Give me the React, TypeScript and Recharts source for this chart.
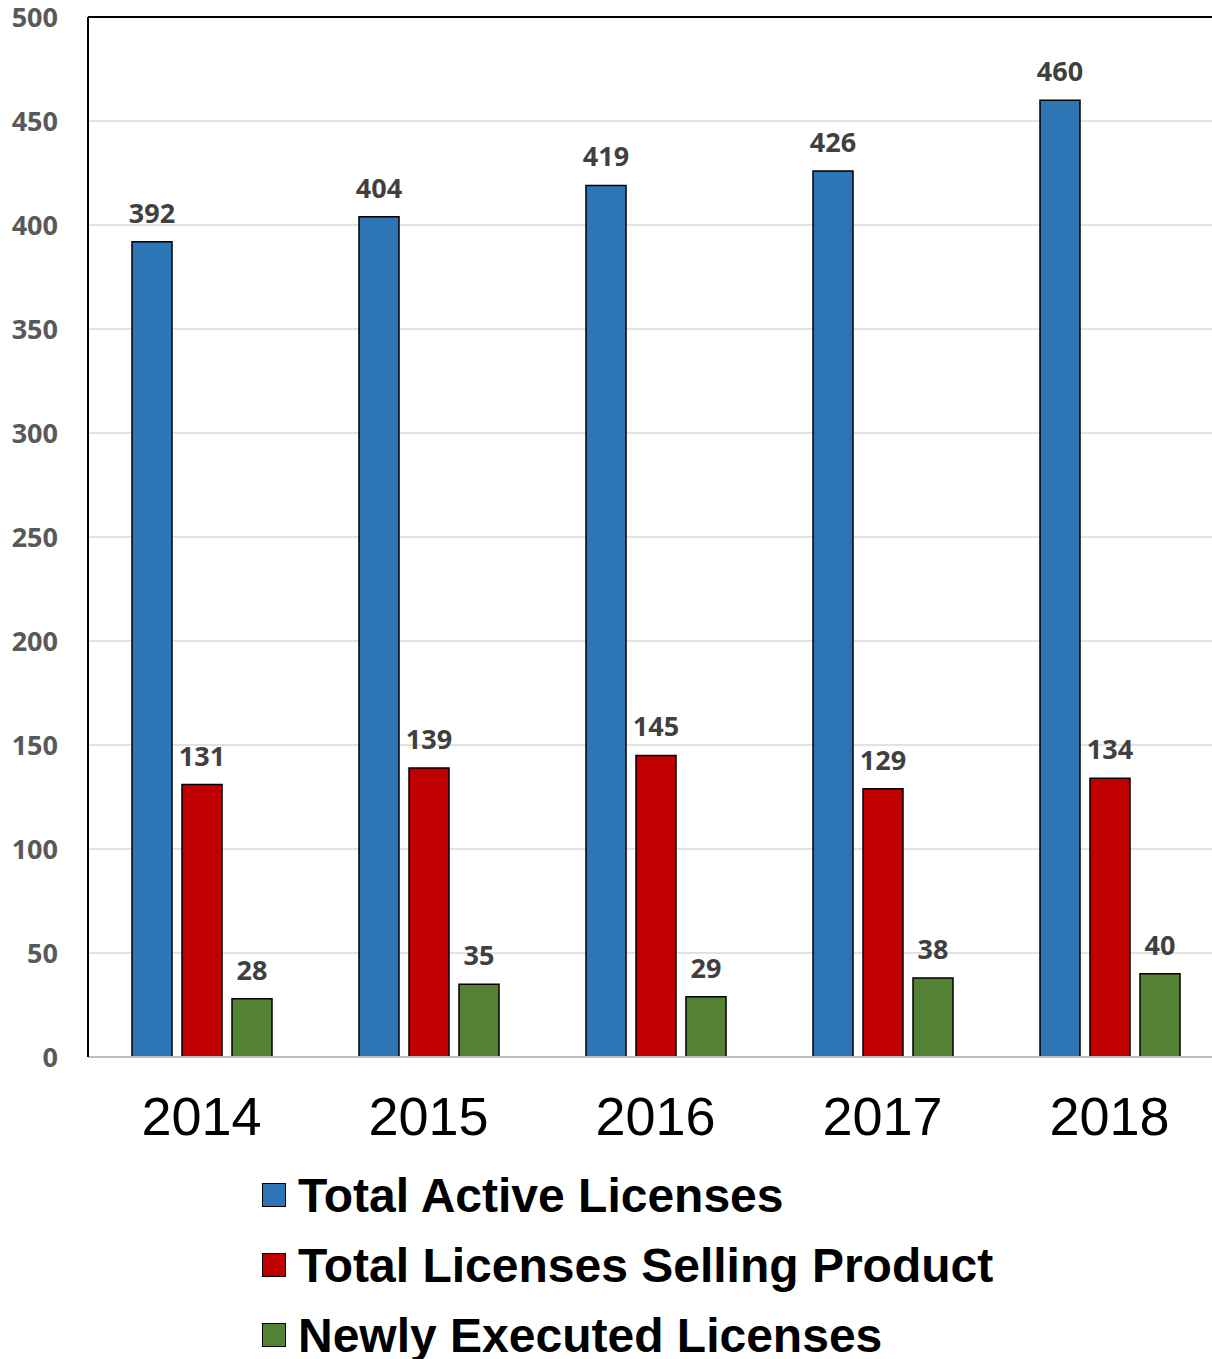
import { Bar, BarChart, CartesianGrid, LabelList, ReferenceLine, XAxis, YAxis } from "recharts";

const years = ["2014", "2015", "2016", "2017", "2018"];
const totalActive = [392, 404, 419, 426, 460];
const sellingProduct = [131, 139, 145, 129, 134];
const newlyExecuted = [28, 35, 29, 38, 40];
const yTicks = [0, 50, 100, 150, 200, 250, 300, 350, 400, 450, 500];

const series = [
  { key: "active", name: "Total Active Licenses", color: "#2E75B6", values: totalActive },
  { key: "selling", name: "Total Licenses Selling Product", color: "#C00000", values: sellingProduct },
  { key: "newly", name: "Newly Executed Licenses", color: "#548235", values: newlyExecuted },
];

const data = years.map((year, i) => {
  const row: Record<string, string | number> = { year };
  series.forEach((s) => (row[s.key] = s.values[i]));
  return row;
});

const numFont = "'Open Sans', 'DejaVu Sans', sans-serif";

export default function App() {
  return (
    <div
      style={{
        position: "fixed",
        left: 0,
        top: 0,
        width: 1212,
        height: 1359,
        overflow: "hidden",
        background: "#fff",
      }}
    >
      <BarChart
        width={1240}
        height={1157}
        data={data}
        margin={{ top: 17, right: 17, bottom: 0, left: 0 }}
        barGap={10}
        barCategoryGap={43}
      >
        <CartesianGrid vertical={false} stroke="#d9d9d9" strokeWidth={1.5} />
        <XAxis
          dataKey="year"
          height={100}
          tickLine={false}
          tickSize={0}
          tickMargin={40}
          axisLine={{ stroke: "#bfbfbf", strokeWidth: 2 }}
          tick={{ fill: "#000", fontSize: 54, fontFamily: "'Liberation Sans', Arial, sans-serif" }}
        />
        <YAxis
          width={88}
          domain={[0, 500]}
          ticks={yTicks}
          interval={0}
          tickLine={false}
          tickSize={0}
          tickMargin={30}
          axisLine={{ stroke: "#000", strokeWidth: 2 }}
          tick={{ fill: "#595959", fontSize: 27, fontWeight: 700, fontFamily: numFont }}
        />
        <ReferenceLine y={500} stroke="#000" strokeWidth={2} />
        {series.map((s) => (
          <Bar
            key={s.key}
            dataKey={s.key}
            name={s.name}
            fill={s.color}
            stroke="#000"
            strokeWidth={1.5}
            barSize={40}
            isAnimationActive={false}
          >
            <LabelList
              dataKey={s.key}
              position="top"
              offset={19}
              fill="#404040"
              fontSize={27}
              fontWeight={700}
              fontFamily={numFont}
            />
          </Bar>
        ))}
      </BarChart>
      <div style={{ position: "absolute", left: 262, top: 1160 }}>
        {series.map((s) => (
          <div
            key={s.key}
            style={{
              display: "flex",
              alignItems: "center",
              height: 70,
              fontFamily: "'Liberation Sans', Arial, sans-serif",
              fontWeight: 700,
              fontSize: 48,
              color: "#000",
            }}
          >
            <span
              style={{
                display: "inline-block",
                width: 22,
                height: 22,
                background: s.color,
                border: "1.5px solid #000",
                marginRight: 12,
              }}
            />
            {s.name}
          </div>
        ))}
      </div>
    </div>
  );
}
